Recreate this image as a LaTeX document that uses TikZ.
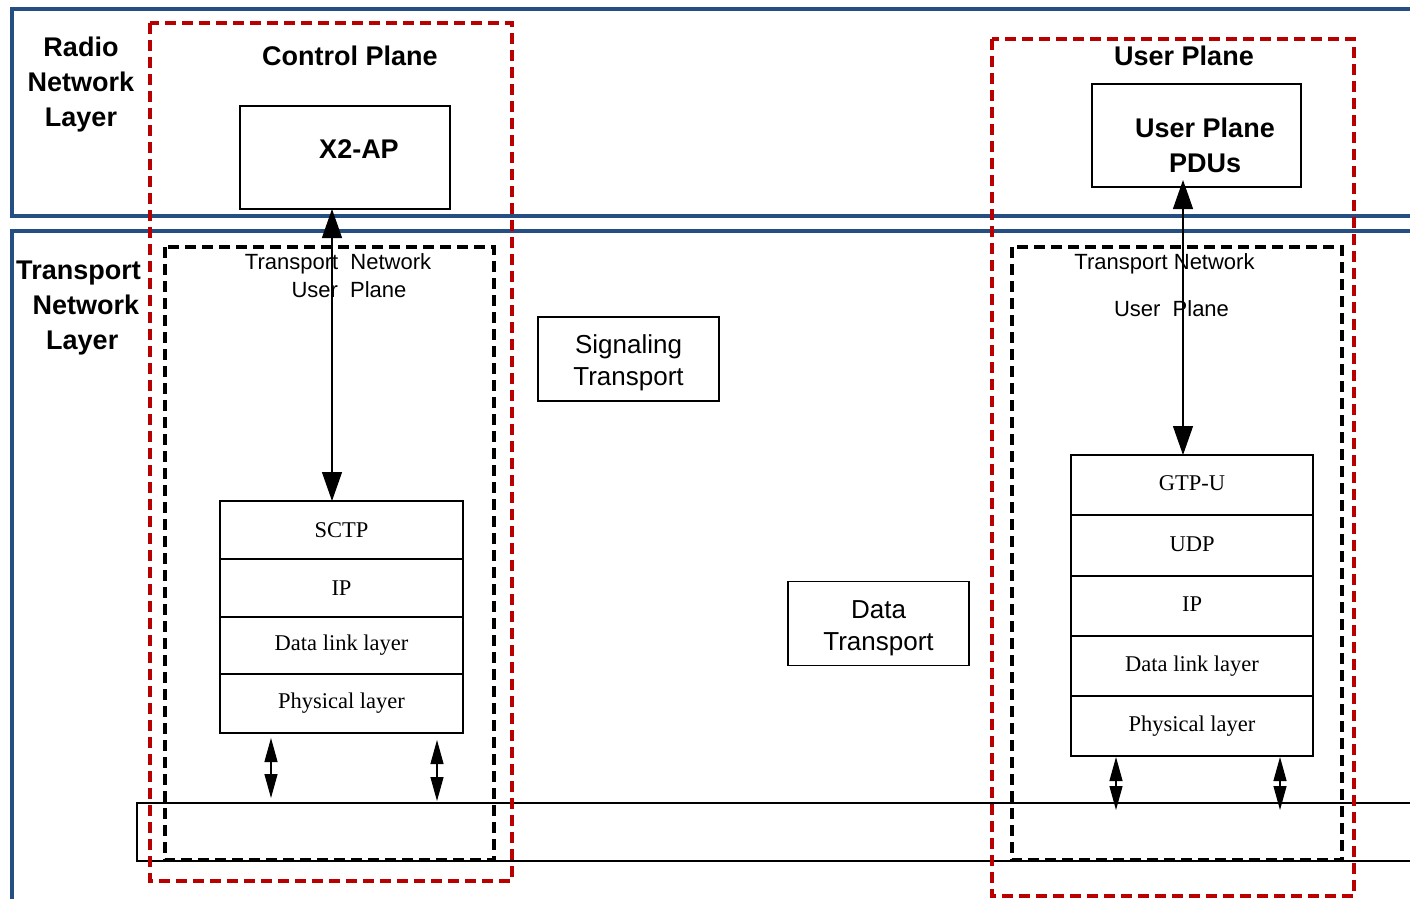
\documentclass[tikz,border=0pt]{standalone}
\usepackage{fontspec}
\setmainfont{Liberation Serif}
\setsansfont{Liberation Sans}
\usetikzlibrary{arrows.meta}
\definecolor{layerblue}{HTML}{254E82}
\definecolor{planered}{HTML}{B80000}
\begin{document}
\begin{tikzpicture}[x=1pt,y=-1pt,
  layerline/.style={draw=layerblue, line width=4pt},
  planebox/.style={draw=planered, line width=3.3pt, dash pattern=on 11pt off 6pt},
  tnbox/.style={draw=black, line width=3.3pt, dash pattern=on 11pt off 6pt},
  boldlabel/.style={inner sep=0pt, align=center, font=\sffamily\bfseries\fontsize{27}{35}\selectfont},
  plainlabel/.style={inner sep=0pt, font=\sffamily\fontsize{22}{26}\selectfont},
  protobox/.style={draw, line width=1.2pt, inner sep=0pt, outer sep=0pt},
  transbox/.style={draw, line width=1.2pt, inner sep=0pt, outer sep=0pt, align=center,
    minimum width=181pt, minimum height=84pt, font=\sffamily\fontsize{26}{32}\selectfont},
  stackrow/.style={draw, line width=1.3pt, inner sep=0pt, outer sep=0pt,
    minimum width=243pt, font=\rmfamily\fontsize{22.5}{26}\selectfont},
  bigarrow/.style={line width=1.2pt, arrows={Triangle[length=29pt,width=20pt]-Triangle[length=29pt,width=20pt]}},
  smallarrow/.style={line width=1.2pt, arrows={Triangle[length=24pt,width=13pt]-Triangle[length=24pt,width=13pt]}}
]
\clip (0,0) rectangle (1410,898);
\fill[white] (0,0) rectangle (1410,898);

% layer frames
\draw[layerline] (1430,9) -- (11.5,9) -- (11.5,216) -- (1430,216);
\draw[layerline] (1430,231) -- (11.5,231) -- (11.5,920);

% layer titles
\node[boldlabel] (rnl) at (81,85) {Radio\\Network\\Layer};
\node[boldlabel] (tnl) at (78.5,308) {Transport\\\ \ Network\\\ Layer};

% transport link
\node[protobox, anchor=north west, minimum width=1400pt, minimum height=58pt] (tlink) at (137,803) {};

% control plane
\node[boldlabel] (cptitle) at (350,56) {Control Plane};
\node[protobox, minimum width=210pt, minimum height=103pt] (x2ap) at (345,157.5) {};
\node[boldlabel] (x2aptext) at (359,149) {X2-AP};
\node[plainlabel] (cptn1) at (338,264) {Transport\ \ Network};
\node[plainlabel] (cptn2) at (349,290) {User\ \ Plane};

\node[stackrow, minimum height=58pt] (sctp) at (341.5,530) {SCTP};
\node[stackrow, minimum height=58pt] (cip) at (341.5,588) {IP};
\node[stackrow, minimum height=57pt] (cdll) at (341.5,645.5) {Data link layer};
\node[stackrow, minimum height=59pt] (cphy) at (341.5,703.5) {Physical layer};

\coordinate (cpx) at (332,0);
\draw[bigarrow] (sctp.north -| cpx) -- (x2ap.south -| cpx);
\coordinate (cpa) at (271,0);
\coordinate (cpb) at (437,0);
\draw[smallarrow, shorten <=5pt, shorten >=5pt] (cphy.south -| cpa) -- (tlink.north -| cpa);
\draw[smallarrow, shorten <=7pt, shorten >=2pt] (cphy.south -| cpb) -- (tlink.north -| cpb);

% middle boxes
\node[transbox] (sig) at (628.5,359) {\rule{0pt}{26pt}Signaling\\Transport};
\node[transbox] (data) at (878.5,623.5) {\rule{0pt}{26.5pt}Data\\Transport};

% user plane
\node[boldlabel] (uptitle) at (1184,56) {User Plane};
\node[protobox, minimum width=209pt, minimum height=103pt] (pdu) at (1196.5,135.5) {};
\node[boldlabel] (pdutext) at (1205,145) {User Plane\\PDUs};
\node[plainlabel] (uptn1) at (1164.5,264) {Transport Network};
\node[plainlabel] (uptn2) at (1171.5,309) {User\ \ Plane};

\node[stackrow, minimum width=242pt, minimum height=60pt] (gtpu) at (1192,485) {\raisebox{3pt}{GTP-U}};
\node[stackrow, minimum width=242pt, minimum height=61pt] (udp) at (1192,545.5) {\raisebox{3pt}{UDP}};
\node[stackrow, minimum width=242pt, minimum height=60pt] (uip) at (1192,606) {\raisebox{3pt}{IP}};
\node[stackrow, minimum width=242pt, minimum height=60pt] (udll) at (1192,666) {Data link layer};
\node[stackrow, minimum width=242pt, minimum height=60pt] (uphy) at (1192,726) {Physical layer};

\coordinate (upx) at (1183,0);
\coordinate (uptip) at (1183,180);
\draw[bigarrow] (gtpu.north -| upx) -- (uptip);
\coordinate (upa) at (1116,0);
\coordinate (upb) at (1280,0);
\draw[smallarrow, shorten <=1pt, shorten >=-7pt] (uphy.south -| upa) -- (tlink.north -| upa);
\draw[smallarrow, shorten <=1pt, shorten >=-7pt] (uphy.south -| upb) -- (tlink.north -| upb);

% dashed groupings
\draw[tnbox] (165,247) rectangle (494,860);
\draw[tnbox] (1012,247) rectangle (1342,860);
\draw[planebox] (150,23) rectangle (512,881);
\draw[planebox] (992,39) rectangle (1354,896);
\end{tikzpicture}
\end{document}
